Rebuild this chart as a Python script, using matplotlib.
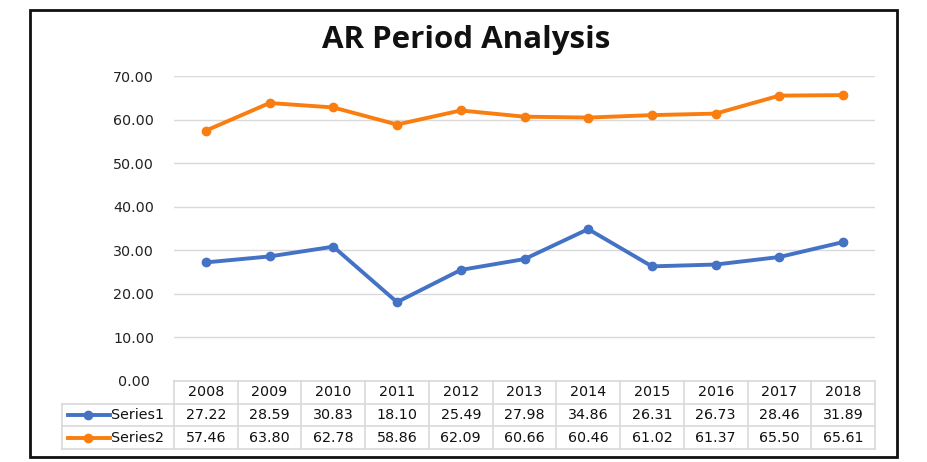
import matplotlib
matplotlib.use("Agg")
import matplotlib.pyplot as plt
from matplotlib.lines import Line2D
from matplotlib.patches import Rectangle

years = ["2008", "2009", "2010", "2011", "2012", "2013", "2014", "2015", "2016", "2017", "2018"]
series1 = [27.22, 28.59, 30.83, 18.10, 25.49, 27.98, 34.86, 26.31, 26.73, 28.46, 31.89]
series2 = [57.46, 63.80, 62.78, 58.86, 62.09, 60.66, 60.46, 61.02, 61.37, 65.50, 65.61]
series_names = ["Series1", "Series2"]
title = "AR Period Analysis"
yticks = [0, 10, 20, 30, 40, 50, 60, 70]

c1 = "#4472C4"
c2 = "#FA7D10"
grid_c = "#D9D9D9"

W, H = 928, 462
fig = plt.figure(figsize=(W / 100, H / 100), dpi=100)
plt.rcParams['font.family'] = ['DejaVu Sans']

def fx(px):
    return px / W

def fy(py):
    return 1 - py / H

FS = 10.3
L, R, T, B = 174, 875, 76, 381
ax = fig.add_axes([fx(L), fy(B), fx(R) - fx(L), fy(T) - fy(B)])
n = len(years)
xs = list(range(n))
ax.plot(xs, series1, color=c1, lw=2.8, marker="o", ms=6, solid_capstyle="round")
ax.plot(xs, series2, color=c2, lw=2.8, marker="o", ms=6, solid_capstyle="round")
ax.set_xlim(-0.5, n - 0.5)
ax.set_ylim(0, 70)
ax.set_yticks(yticks)
ax.set_yticklabels([f"{v:.2f}" for v in yticks], fontsize=FS, color="#222222")
ax.set_xticks([])
for s in ax.spines.values():
    s.set_visible(False)
ax.yaxis.grid(True, color=grid_c, lw=1)
ax.set_axisbelow(True)
for lab in ax.get_yticklabels():
    lab.set_horizontalalignment("center")
ax.tick_params(axis="y", length=0, pad=29)

# title
fig.text(fx(466), fy(48), title, ha="center", va="baseline", fontsize=22.5,
         fontweight="bold", family="Open Sans", color="#111111")

# outer border
fig.add_artist(Rectangle((fx(30), fy(457)), fx(897) - fx(30), fy(10) - fy(457),
                         transform=fig.transFigure, fill=False, ec="#111111", lw=2))

# data table
rows_y = [381, 404, 426, 449]
colw = (R - L) / n
leg_l = 62
tc = dict(transform=fig.transFigure, color=grid_c, lw=1.2)
fig.add_artist(Line2D([fx(L), fx(R)], [fy(rows_y[0])] * 2, **tc))
for yy in rows_y[1:]:
    fig.add_artist(Line2D([fx(leg_l), fx(R)], [fy(yy)] * 2, **tc))
fig.add_artist(Line2D([fx(leg_l)] * 2, [fy(rows_y[1]), fy(rows_y[3])], **tc))
for i in range(n + 1):
    x = L + i * colw
    fig.add_artist(Line2D([fx(x)] * 2, [fy(rows_y[0]), fy(rows_y[3])], **tc))

txt = dict(ha="center", va="center", fontsize=FS, color="#111111")
for i in range(n):
    xc = fx(L + (i + 0.5) * colw)
    fig.text(xc, fy((rows_y[0] + rows_y[1]) / 2), years[i], **txt)
    fig.text(xc, fy((rows_y[1] + rows_y[2]) / 2), f"{series1[i]:.2f}", **txt)
    fig.text(xc, fy((rows_y[2] + rows_y[3]) / 2), f"{series2[i]:.2f}", **txt)

for k, (name, col) in enumerate(zip(series_names, [c1, c2])):
    yc = fy((rows_y[k + 1] + rows_y[k + 2]) / 2)
    fig.add_artist(Line2D([fx(68), fx(110)], [yc, yc], transform=fig.transFigure,
                          color=col, lw=2.8))
    fig.add_artist(Line2D([fx(88)], [yc], transform=fig.transFigure,
                          color=col, marker="o", ms=6, lw=0))
    fig.text(fx(111), yc, name, ha="left", va="center", fontsize=FS, color="#111111")

fig.savefig("out.png", dpi=100, facecolor="white")
